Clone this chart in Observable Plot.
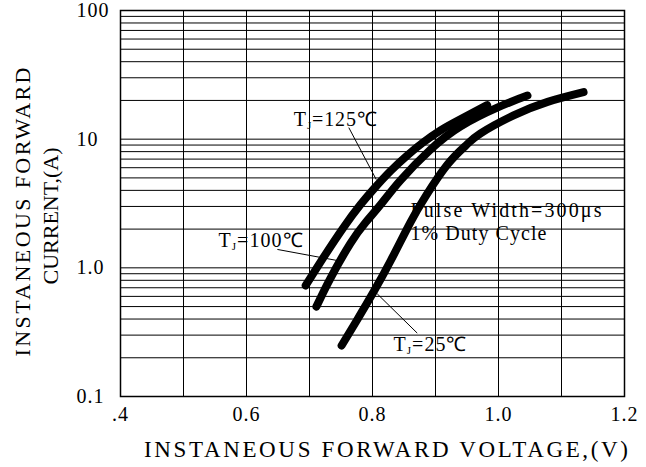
<!DOCTYPE html>
<html><head><meta charset="utf-8">
<script src="https://cdn.jsdelivr.net/npm/d3@7"></script>
<script src="https://cdn.jsdelivr.net/npm/@observablehq/plot@0.6"></script>
<style>
body{margin:0;background:#fff}
svg text{letter-spacing:1px}
</style>
</head><body><div id="chart"></div>
<script>
// Forward voltage (V) and current (A)
const v25  = [0.751, 0.776, 0.802, 0.829, 0.860, 0.884, 0.919, 0.948, 0.971, 1.024, 1.078, 1.135];
const i25  = [0.249, 0.397, 0.654, 1.14,  2.25,  3.58,  6.35,  8.92,  11.05, 15.3,  19.5,  23.2];
const v100 = [0.711, 0.733, 0.765, 0.789, 0.813, 0.844, 0.892, 0.940, 0.998, 1.046];
const i100 = [0.50,  0.826, 1.55,  2.25,  3.10,  4.77,  8.30,  12.6,  17.6,  21.8];
const v125 = [0.694, 0.722, 0.754, 0.781, 0.802, 0.829, 0.856, 0.881, 0.908, 0.935, 0.982];
const i125 = [0.729, 1.20,  2.06,  3.10,  4.10,  5.68,  7.54,  9.48,  11.7,  13.9,  18.4];

const xTicks = [0.4, 0.6, 0.8, 1.0, 1.2];
const xTickLabels = [".4", "0.6", "0.8", "1.0", "1.2"];
const yTicks = [0.1, 1, 10, 100];
const yTickLabels = ["0.1", "1.0", "10", "100"];
const xGrid = [0.4, 0.5, 0.6, 0.7, 0.8, 0.9, 1.0, 1.1, 1.2];
const yGrid = [0.1,0.2,0.3,0.4,0.5,0.6,0.7,0.8,0.9,1,2,3,4,5,6,7,8,9,10,20,30,40,50,60,70,80,90,100];

const labelText = ["=125℃", "=100℃", "=25℃"];
const labelX = [0.6751, 0.5556, 0.8333];
const labelY = [14.3, 1.64, 0.255];
const leadX1 = [0.7624, 0.649, 0.8075];
const leadY1 = [12.3, 1.39, 0.628];
const leadX2 = [0.8060, 0.744, 0.871];
const leadY2 = [4.85, 1.14, 0.311];

const noteLines = ["Pulse Width=300μs", "1% Duty Cycle"];
const noteX = [0.8603, 0.8603];
const noteY = [2.77, 1.83];

const yTitle = ["INSTANEOUS FORWARD", "CURRENT,(A)"];
const xTitle = "INSTANEOUS FORWARD VOLTAGE,(V)";

const toRows = (vs, is) => vs.map((v, k) => ({v, i: is[k]}));
const labels = labelText.map((t, k) => ({t, x: labelX[k], y: labelY[k]}));
const leaders = leadX1.map((x1, k) => ({x1, y1: leadY1[k], x2: leadX2[k], y2: leadY2[k]}));
const notes = noteLines.map((t, k) => ({t, x: noteX[k], y: noteY[k]}));

const serif = "'Liberation Serif','Times New Roman',serif";
const curveStyle = {x: "v", y: "i", curve: "natural", stroke: "#000", strokeWidth: 8, strokeLinecap: "round", strokeLinejoin: "round"};

const chart = Plot.plot({
  width: 646, height: 467,
  marginLeft: 120, marginRight: 22, marginTop: 10, marginBottom: 71,
  style: {fontFamily: serif, background: "#fff", color: "#000", overflow: "visible"},
  x: {domain: [0.4, 1.2]},
  y: {type: "log", domain: [0.1, 100]},
  marks: [
    Plot.ruleX(xGrid, {stroke: "#000", strokeWidth: 1}),
    Plot.ruleY(yGrid, {stroke: "#000", strokeWidth: 1}),
    Plot.frame({stroke: "#000", strokeWidth: 1.5}),
    Plot.axisX({ticks: xTicks, tickFormat: d => xTickLabels[xTicks.indexOf(d)], tickSize: 0, tickPadding: 10, fontSize: 20, label: null}),
    Plot.axisY({ticks: yTicks, tickFormat: d => yTickLabels[yTicks.indexOf(d)], tickSize: 0, tickPadding: 44, textAnchor: "start", fontSize: 20, label: null}),
    Plot.line(toRows(v25, i25), curveStyle),
    Plot.line(toRows(v100, i100), curveStyle),
    Plot.line(toRows(v125, i125), curveStyle),
    Plot.link(leaders, {x1: "x1", y1: "y1", x2: "x2", y2: "y2", stroke: "#000", strokeWidth: 1}),
    Plot.text(labels, {x: "x", y: "y", text: "t", textAnchor: "start", fontSize: 20, fill: "#000", className: "tj"}),
    Plot.text(notes, {x: "x", y: "y", text: "t", textAnchor: "start", fontSize: 20, fill: "#000", className: "note"}),
    Plot.text([yTitle[0]], {frameAnchor: "left", textAnchor: "middle", lineAnchor: "middle", rotate: -90, dx: -98, dy: 8, fontSize: 22, fill: "#000", className: "yt1"}),
    Plot.text([yTitle[1]], {frameAnchor: "left", textAnchor: "middle", lineAnchor: "middle", rotate: -90, dx: -70, dy: 12, fontSize: 22, fill: "#000", className: "yt2"}),
    Plot.text([xTitle], {frameAnchor: "bottom", textAnchor: "middle", lineAnchor: "middle", dx: 14, dy: 53, fontSize: 23, fill: "#000", className: "xt"})
  ]
});

const svg = d3.select(chart);
// subscript J in the temperature labels
const tjWidths = [84, 85, 74];
svg.selectAll("g.tj text").each(function(_, k) {
  const rest = this.textContent;
  const s = d3.select(this);
  s.text(null);
  s.append("tspan").text("T");
  s.append("tspan").attr("font-size", 11).attr("dy", 3).text("J");
  s.append("tspan").attr("dy", -3).text(rest);
  s.attr("textLength", tjWidths[k]).attr("lengthAdjust", "spacing");
});
const noteWidths = [192, 137];
svg.selectAll("g.note text").each(function(_, k) {
  d3.select(this).attr("textLength", noteWidths[k]).attr("lengthAdjust", "spacing");
});
svg.selectAll("g.xt text").attr("textLength", 485).attr("lengthAdjust", "spacing");
svg.selectAll("g.yt1 text").attr("textLength", 290).attr("lengthAdjust", "spacing");
svg.selectAll("g.yt2 text").attr("textLength", 138).attr("lengthAdjust", "spacing");

document.getElementById("chart").appendChild(chart);
</script>
</body></html>
